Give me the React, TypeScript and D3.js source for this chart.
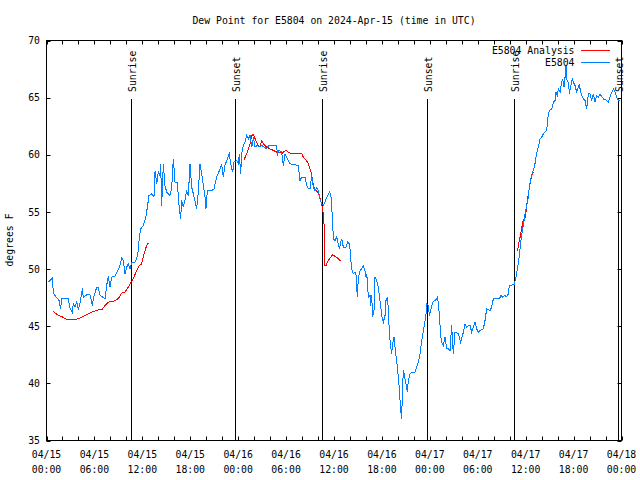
import React from "react";
import * as d3 from "d3";

const TITLE = "Dew Point for E5804 on 2024-Apr-15 (time in UTC)";
const Y_LABEL = "degrees F";
const START_MS = Date.UTC(2024, 3, 15, 0, 0);
const SPAN_HOURS = 72;
const Y_DOMAIN: [number, number] = [35, 70];
const Y_TICKS = [35, 40, 45, 50, 55, 60, 65, 70];

const SERIES_NAMES = ["E5804 Analysis", "E5804"];
const SERIES_COLORS = ["#ff0000", "#0080ff"];

// sun events in hours after 2024-04-15 00:00 UTC
const SUN_HOURS = [10.62, 23.62, 34.54, 47.6, 58.58, 71.6];
const SUN_LABELS = ["Sunrise", "Sunset", "Sunrise", "Sunset", "Sunrise", "Sunset"];

// [hours after start, dew point F]
const analysisSeg1: [number, number][] = [
  [0.85, 46.29], [1.48, 45.94], [1.9, 45.85], [2.53, 45.59], [3.36, 45.59], [3.99, 45.65],
  [4.61, 45.85], [5.24, 46.08], [5.86, 46.29], [6.49, 46.43], [6.91, 46.43], [7.33, 46.81],
  [7.74, 47.1], [8.37, 47.19], [8.79, 47.31], [9.12, 47.54], [9.41, 47.89], [9.83, 47.98],
  [10.25, 48.42], [10.58, 48.85], [10.87, 49.15], [11.29, 49.87], [11.62, 50.31], [11.92, 50.46],
  [12.21, 51.33], [12.54, 52.06], [12.75, 52.26], [12.88, 52.3],
];
const analysisSeg2: [number, number][] = [
  [24.73, 59.56], [25.07, 60.08], [25.28, 60.52], [25.49, 60.96], [25.7, 61.69], [25.91, 61.77],
  [26.12, 61.4], [26.33, 61.1], [26.53, 60.8], [26.73, 60.67], [26.96, 61.25], [27.15, 60.96],
  [27.58, 60.67], [27.99, 60.52], [28.41, 60.38], [28.84, 60.23], [29.24, 60.23], [29.45, 60.08],
  [29.66, 60.23], [30.0, 60.43], [30.28, 60.23], [30.7, 60.08], [30.91, 60.14], [31.32, 60.08],
  [31.74, 60.08], [31.95, 60.14], [32.16, 59.79], [32.49, 59.56], [32.79, 59.21], [33.0, 58.77],
  [33.2, 58.33], [33.33, 57.6], [33.54, 57.02], [33.75, 56.87], [33.96, 56.73], [34.17, 56.44],
  [34.33, 56.0], [34.46, 55.7], [34.59, 55.12], [34.67, 54.83], [34.75, 53.96], [34.87, 50.31],
  [35.0, 50.31], [35.29, 50.75], [35.58, 51.04], [35.83, 51.27], [36.13, 51.1], [36.42, 50.98],
  [36.67, 50.81], [36.88, 50.69],
];
const analysisSeg3: [number, number][] = [
  [58.96, 51.56], [59.13, 52.21], [59.3, 52.79], [59.46, 53.37], [59.63, 54.1], [59.8, 54.39],
  [59.96, 54.54], [60.21, 56.0], [60.55, 57.46], [60.71, 58.04], [60.88, 58.39], [61.0, 58.48],
];

const observed: [number, number][] = [
  [0.23, 48.85], [0.73, 49.2], [0.86, 47.9], [1.27, 47.5], [1.57, 47.25], [1.77, 46.5], [1.9, 47.4],
  [2.73, 47.4], [2.94, 46.6], [3.23, 46.2], [3.36, 47.0], [3.57, 46.67], [3.78, 47.1], [3.99, 46.5],
  [4.19, 46.96], [4.49, 48.3], [4.61, 47.5], [5.03, 47.75], [5.45, 47.75], [5.74, 46.8], [5.86, 47.4],
  [6.28, 48.4], [6.49, 48.4], [6.7, 47.7], [7.12, 47.5], [7.33, 47.4], [7.53, 48.55], [7.74, 49.35],
  [7.95, 48.4], [8.16, 49.3], [8.58, 49.4], [8.79, 49.7], [9.2, 50.3], [9.41, 50.98], [9.62, 50.75],
  [9.83, 49.6], [10.04, 50.17], [10.25, 50.46], [10.46, 50.0], [10.66, 50.6], [11.08, 50.6],
  [11.29, 50.9], [11.5, 51.6], [11.62, 52.8], [11.79, 53.5], [12.12, 53.8], [12.33, 54.25],
  [12.47, 54.69], [12.63, 55.4], [12.83, 56.44], [13.17, 56.58], [13.46, 56.35], [13.59, 58.6],
  [13.8, 57.46], [14.0, 58.48], [14.21, 58.19], [14.3, 59.2], [14.42, 55.56], [14.63, 59.2],
  [14.84, 57.3], [15.05, 56.73], [15.46, 56.44], [15.67, 57.02], [15.88, 59.65], [16.09, 57.6],
  [16.38, 57.6], [16.63, 55.27], [16.8, 54.4], [16.92, 56.0], [17.13, 55.42], [17.34, 56.0],
  [17.55, 56.87], [17.76, 56.44], [17.97, 59.2], [18.18, 57.17], [18.39, 56.58], [18.8, 55.27],
  [19.01, 56.73], [19.22, 59.2], [19.43, 58.33], [19.64, 57.31], [19.85, 56.29], [19.97, 55.27],
  [20.14, 56.87], [20.68, 56.87], [20.97, 57.02], [21.3, 58.04], [21.64, 58.6], [21.93, 59.2],
  [22.14, 58.04], [22.35, 59.06], [22.56, 59.5], [22.89, 60.08], [23.06, 59.2], [23.31, 58.48],
  [23.48, 59.35], [23.81, 59.5], [24.02, 59.2], [24.15, 60.08], [24.31, 58.33], [24.44, 60.08],
  [24.65, 60.8], [24.86, 61.1], [25.07, 61.69], [25.28, 61.4], [25.49, 61.69], [25.7, 60.67],
  [25.91, 61.54], [26.12, 60.67], [26.33, 60.8], [26.73, 60.72], [26.96, 60.8], [27.58, 60.52],
  [27.79, 60.8], [28.84, 60.8], [28.9, 59.94], [29.07, 60.38], [29.45, 60.23], [29.66, 59.06],
  [29.87, 60.08], [30.07, 59.79], [30.28, 59.5], [30.49, 59.21], [31.53, 59.06], [31.74, 57.75],
  [31.95, 58.04], [32.37, 58.04], [32.58, 57.31], [32.79, 57.02], [33.0, 57.02], [33.2, 58.19],
  [33.41, 57.17], [33.62, 56.87], [33.83, 57.1], [34.04, 56.87], [34.25, 56.14], [34.46, 55.7],
  [34.67, 55.56], [34.88, 55.85], [35.09, 56.29], [35.42, 56.73], [35.6, 56.5], [35.71, 55.56],
  [35.83, 53.96], [35.92, 52.65], [36.13, 52.5], [36.34, 52.79], [36.67, 51.77], [36.84, 52.35],
  [36.96, 52.65], [37.17, 51.92], [37.51, 51.92], [37.72, 52.35], [37.93, 52.21], [38.0, 51.77],
  [38.09, 50.9], [38.21, 50.02], [38.42, 49.58], [38.63, 49.73], [38.76, 49.44], [38.84, 48.42],
  [38.93, 47.54], [39.05, 49.29], [39.26, 49.87], [39.47, 50.02], [39.67, 50.31], [39.88, 49.87],
  [40.01, 49.29], [40.09, 49.58], [40.17, 49.0], [40.3, 47.54], [40.51, 47.69], [40.59, 46.81],
  [40.72, 47.69], [40.84, 45.79], [41.01, 46.37], [41.13, 49.29], [41.34, 49.0], [41.55, 48.42],
  [41.76, 47.25], [41.89, 46.52], [42.01, 45.79], [42.18, 45.35], [42.39, 45.94], [42.51, 47.25],
  [42.68, 47.54], [42.8, 46.52], [42.93, 44.48], [43.1, 43.17], [43.22, 42.58], [43.35, 43.46],
  [43.51, 44.04], [43.64, 43.17], [43.76, 42.44], [43.93, 41.42], [44.05, 40.54], [44.18, 39.52],
  [44.27, 38.5], [44.35, 37.63], [44.47, 36.89], [44.55, 38.79], [44.68, 41.12], [44.8, 40.83],
  [44.93, 40.25], [45.1, 39.67], [45.18, 39.23], [45.3, 40.25], [45.52, 40.83], [45.73, 40.98],
  [46.14, 40.98], [46.35, 41.42], [46.56, 41.85], [46.77, 42.58], [46.98, 43.75], [47.19, 44.62],
  [47.4, 45.5], [47.53, 46.08], [47.61, 46.96], [47.82, 46.81], [47.94, 45.94], [48.11, 46.37],
  [48.36, 47.1], [48.65, 47.25], [48.86, 47.4], [48.98, 47.54], [49.19, 46.08], [49.36, 44.19],
  [49.48, 43.6], [49.69, 43.31], [49.9, 44.04], [50.11, 43.02], [50.32, 43.02], [50.53, 42.87],
  [50.73, 45.06], [50.94, 42.6], [51.15, 44.48], [51.57, 44.33], [51.86, 43.6], [52.2, 44.48],
  [52.4, 45.2], [52.61, 44.91], [52.82, 45.06], [53.03, 45.06], [53.24, 44.48], [53.45, 44.91],
  [53.66, 45.35], [53.86, 44.77], [54.07, 44.48], [54.28, 44.62], [54.7, 44.77], [54.91, 45.5],
  [55.12, 46.52], [55.53, 46.37], [55.74, 46.66], [55.95, 47.39], [56.7, 47.39], [56.91, 47.69],
  [57.12, 47.54], [57.33, 47.69], [57.62, 47.6], [57.83, 47.83], [57.96, 48.56], [58.54, 48.65],
  [58.79, 49.29], [58.96, 50.02], [59.13, 50.75], [59.3, 51.77], [59.46, 52.79], [59.63, 53.52],
  [59.8, 54.25], [59.96, 54.98], [60.13, 55.56], [60.3, 56.14], [60.46, 57.17], [60.63, 57.9],
  [60.8, 58.33], [60.96, 58.62], [61.13, 59.06], [61.3, 59.79], [61.46, 60.37], [61.63, 60.81],
  [61.8, 61.4], [62.0, 61.54], [62.21, 61.83], [62.42, 61.98], [62.63, 62.12], [62.76, 63.14],
  [62.97, 63.88], [63.26, 64.02], [63.47, 64.6], [63.68, 64.75], [63.8, 65.48], [63.97, 65.19],
  [64.1, 65.77], [64.31, 65.48], [64.51, 66.35], [64.64, 66.64], [64.81, 65.92], [64.93, 66.79],
  [65.06, 67.81], [65.18, 66.5], [65.35, 66.35], [65.48, 65.33], [65.65, 66.06], [65.85, 66.64],
  [65.98, 66.35], [66.18, 66.06], [66.39, 65.48], [66.6, 65.92], [66.73, 66.21], [66.81, 65.77],
  [67.02, 65.19], [67.23, 64.89], [67.43, 64.75], [67.64, 64.02], [67.85, 65.33], [68.06, 65.33],
  [68.27, 64.75], [68.47, 65.33], [68.68, 64.6], [68.89, 65.19], [69.1, 65.04], [69.31, 65.33],
  [69.73, 64.89], [70.15, 64.75], [70.36, 64.6], [70.57, 65.04], [70.78, 65.48], [70.99, 65.77],
  [71.2, 65.48], [71.41, 65.04], [71.62, 64.75], [71.83, 64.75],
];

const FONT = "'DejaVu Sans Mono', 'Liberation Mono', monospace";
const FS = 9.8;

const toDate = (h: number) => new Date(START_MS + h * 3600e3);

export default function App() {
  const W = 640, H = 480;
  const L = 46.5, R = 621.5, T = 40.5, B = 440.5;
  const x = d3.scaleUtc().domain([toDate(0), toDate(SPAN_HOURS)]).range([L, R]);
  const y = d3.scaleLinear().domain(Y_DOMAIN).range([B, T]);
  const line = d3.line<[number, number]>()
    .x((d) => x(toDate(d[0])))
    .y((d) => y(d[1]));

  const minorTicks = x.ticks(d3.utcHour.every(2)!);
  const labelTicks = x.ticks(d3.utcHour.every(6)!);
  const fmtDay = d3.utcFormat("%m/%d");
  const fmtTime = d3.utcFormat("%H:%M");

  return (
    <svg width={W} height={H} style={{ position: "absolute", left: 0, top: 0, background: "#fff" }}
      fontFamily={FONT} fontSize={FS}>
      <rect x={0} y={0} width={W} height={H} fill="#fff" />
      <text x={(L + R) / 2} y={23.5} textAnchor="middle" fill="#000">{TITLE}</text>
      <text transform={`translate(13,240) rotate(-90)`} textAnchor="middle" fill="#000">{Y_LABEL}</text>

      {/* y ticks */}
      {Y_TICKS.map((v) => (
        <g key={"y" + v}>
          <line x1={L} x2={L + 4} y1={Math.round(y(v)) + 0.5} y2={Math.round(y(v)) + 0.5} stroke="#000" />
          <line x1={R - 4} x2={R} y1={Math.round(y(v)) + 0.5} y2={Math.round(y(v)) + 0.5} stroke="#000" />
          <text x={40} y={y(v) + 3.6} textAnchor="end" fill="#000">{v}</text>
        </g>
      ))}

      {/* x ticks */}
      {minorTicks.map((t, i) => {
        const px = Math.round(x(t)) + 0.5;
        return (
          <g key={"xt" + i}>
            <line x1={px} x2={px} y1={B} y2={B - 4} stroke="#000" />
            <line x1={px} x2={px} y1={T} y2={T + 4} stroke="#000" />
          </g>
        );
      })}
      {labelTicks.map((t, i) => (
        <g key={"xl" + i}>
          <text x={x(t)} y={457.5} textAnchor="middle" fill="#000">{fmtDay(t)}</text>
          <text x={x(t)} y={473} textAnchor="middle" fill="#000">{fmtTime(t)}</text>
        </g>
      ))}

      {/* sun events */}
      {SUN_HOURS.map((h, i) => {
        const px = Math.round(x(toDate(h))) + 0.5;
        return (
          <g key={"sun" + i}>
            <line x1={px} x2={px} y1={99} y2={B} stroke="#000" />
            <text transform={`translate(${px + 4.5},92) rotate(-90)`} textAnchor="start" fill="#000">
              {SUN_LABELS[i]}
            </text>
          </g>
        );
      })}

      {/* series */}
      <g fill="none" strokeWidth={1} shapeRendering="crispEdges">
        {[analysisSeg1, analysisSeg2, analysisSeg3].map((seg, i) => (
          <path key={"a" + i} d={line(seg) || ""} stroke={SERIES_COLORS[0]} />
        ))}
        <path d={line(observed) || ""} stroke={SERIES_COLORS[1]} />
      </g>

      {/* frame */}
      <rect x={L} y={T} width={R - L} height={B - T} fill="none" stroke="#000" />

      {/* legend */}
      {SERIES_NAMES.map((name, i) => (
        <g key={"lg" + i}>
          <text x={574.5} y={54 + i * 12} textAnchor="end" fill="#000">{name}</text>
          <line x1={581} x2={610} y1={50.5 + i * 12} y2={50.5 + i * 12} stroke={SERIES_COLORS[i]} />
        </g>
      ))}
    </svg>
  );
}
